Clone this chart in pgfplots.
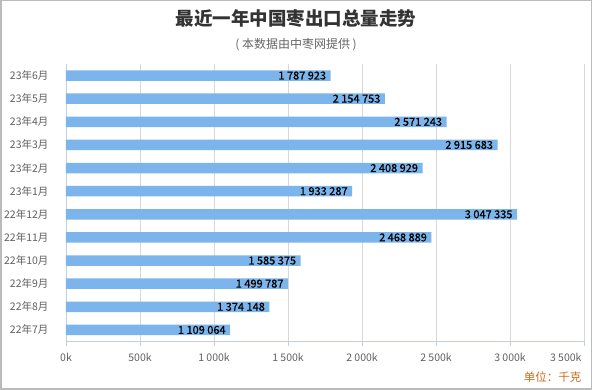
\documentclass[border=0pt]{standalone}
\usepackage{fontspec}
\setmainfont{Noto Sans CJK SC}
\newfontfamily\valfont{Noto Sans CJK SC}[FakeBold=0.5]
\usepackage{pgfplots}
\pgfplotsset{compat=1.18}
\definecolor{barblue}{HTML}{7CB5EC}
\definecolor{axisline}{HTML}{C0D0E0}
\definecolor{gridgray}{HTML}{D8D8D8}
\definecolor{labelgray}{HTML}{606060}
\definecolor{titlegray}{HTML}{333333}
\definecolor{subgray}{HTML}{666666}
\definecolor{unitorange}{HTML}{D2691E}
\definecolor{framegray}{HTML}{BBBBBB}
\begin{document}
\begin{tikzpicture}[x=1pt,y=1pt]
\useasboundingbox (0,0) rectangle (592,390);
\fill[white] (0,0) rectangle (592,390);
\draw[framegray, line width=1.5pt] (0.75,0.75) rectangle (591.25,389.25);
\node[text=titlegray, font=\fontsize{18.5}{22}\selectfont\bfseries] at (296,371) {最近一年中国枣出口总量走势};
\node[text=subgray, font=\fontsize{12}{14}\selectfont] at (296,345) {( 本数据由中枣网提供 )};
\node[text=unitorange, font=\fontsize{11.5}{14}\selectfont, anchor=east] at (585,13) {单位：千克};
\begin{axis}[
  at={(66pt,48.5pt)}, anchor=south west,
  scale only axis, width=518pt, height=277.5pt,
  xbar, bar width=10.5pt,
  xmin=0, xmax=3500000,
  ymin=-0.5, ymax=11.5,
  axis x line*=bottom, axis y line*=left,
  axis line style={axisline, line width=0.8pt},
  xtick={0,500000,1000000,1500000,2000000,2500000,3000000},
  xticklabels={0k,500k,1 000k,1 500k,2 000k,2 500k,3 000k},
  extra x ticks={3500000},
  extra x tick labels={3 500k},
  extra x tick style={xticklabel style={anchor=north east, xshift=1pt}},
  scaled x ticks=false,
  xmajorgrids, major grid style={gridgray, line width=0.8pt},
  tick align=outside,
  x tick style={axisline, line width=0.8pt},
  major tick length=5pt,
  ytick={0,...,11},
  yticklabels={22年7月,22年8月,22年9月,22年10月,22年11月,22年12月,23年1月,23年2月,23年3月,23年4月,23年5月,23年6月},
  y tick style={draw=none},
  yticklabel style={xshift=-9pt},
  extra y ticks={-0.5,0.5,...,11.5},
  extra y tick labels={},
  extra y tick style={tick style={draw=axisline, line width=0.8pt}, major tick length=10pt, ymajorgrids=false},
  tick label style={text=labelgray, font=\fontsize{10.5}{12}\selectfont},
  xticklabel style={yshift=-3pt},
  point meta=explicit symbolic,
  nodes near coords,
  nodes near coords align={anchor=east},
  every node near coord/.append style={font=\fontsize{11}{12}\selectfont\valfont, text=black, xshift=-1pt},
  clip=false,
]
\addplot[fill=barblue, draw=none] coordinates {
(1109064,0) [1 109 064]
(1374148,1) [1 374 148]
(1499787,2) [1 499 787]
(1585375,3) [1 585 375]
(2468889,4) [2 468 889]
(3047335,5) [3 047 335]
(1933287,6) [1 933 287]
(2408929,7) [2 408 929]
(2915683,8) [2 915 683]
(2571243,9) [2 571 243]
(2154753,10) [2 154 753]
(1787923,11) [1 787 923]
};
\end{axis}
\end{tikzpicture}
\end{document}
